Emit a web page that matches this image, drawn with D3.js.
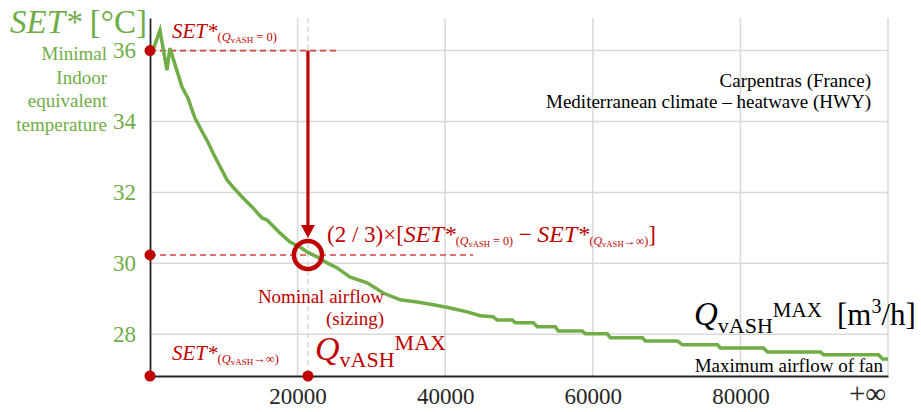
<!DOCTYPE html>
<html><head><meta charset="utf-8">
<script src="https://cdn.jsdelivr.net/npm/d3@7"></script>
<style>html,body{margin:0;padding:0;background:#fff;}svg{display:block;} svg text{font-family:"Liberation Serif","Times New Roman","DejaVu Serif",serif;}</style>
</head><body>
<svg id="c" width="921" height="412"></svg>
<script>
// ---- data ----
const airflow = [500, 1350, 2300, 2700, 4340, 5150, 6100, 7870, 8540, 10440, 11250, 12480, 13830, 15190, 15870, 17630, 18980, 20340, 21290, 22650, 24000, 25360, 27120, 29430, 31600, 33900, 36200, 38380, 40680, 42990, 44750, 46510, 47050, 49090, 49490, 51940, 52480, 54920, 55330, 58580, 58990, 61970, 62380, 66720, 67120, 71460, 72140, 76890, 77290, 83120, 83670, 90850, 91260, 98720, 99260, 100000];
const setStar = [36.07, 36.57, 35.45, 36.07, 34.97, 34.66, 34.09, 33.41, 33.11, 32.35, 32.15, 31.87, 31.59, 31.28, 31.22, 30.85, 30.60, 30.46, 30.32, 30.18, 30.01, 29.87, 29.61, 29.45, 29.16, 28.97, 28.91, 28.83, 28.74, 28.63, 28.52, 28.49, 28.40, 28.40, 28.32, 28.32, 28.21, 28.21, 28.09, 28.09, 28.01, 28.01, 27.90, 27.90, 27.81, 27.81, 27.70, 27.70, 27.61, 27.61, 27.50, 27.50, 27.42, 27.42, 27.30, 27.30];
const xTicks = [20000, 40000, 60000, 80000];
const xInfLabel = "+∞";
const yTicks = [28, 30, 32, 34, 36];
const setAtZero = 36.0;
const setAtNominal = 30.235;
const nominalAirflow = 21400;
const titleLines = ["Carpentras (France)", "Mediterranean climate – heatwave (HWY)"];
const yDescLines = ["Minimal", "Indoor", "equivalent", "temperature"];

// ---- scales ----
const FONT = "Liberation Serif, Times New Roman, DejaVu Serif, serif";
const svg = d3.select("#c");
const x = d3.scaleLinear().domain([0, 100000]).range([150, 888]);
const y = d3.scaleLinear().domain([26.82, 36.92]).range([376, 18]);
const green = "#70ad47", red = "#c00000", redDash = "#d54545", grid = "#d9d9d9", dark = "#262626";

// gridlines
svg.append("g").selectAll("line").data(yTicks).join("line")
  .attr("x1", x(0)).attr("x2", x(100000)).attr("y1", d => y(d)).attr("y2", d => y(d))
  .attr("stroke", grid).attr("stroke-width", 1.5);
svg.append("g").selectAll("line").data(xTicks.concat([100000])).join("line")
  .attr("x1", d => x(d)).attr("x2", d => x(d)).attr("y1", y.range()[1]).attr("y2", y.range()[0])
  .attr("stroke", grid).attr("stroke-width", 1.5);

// nominal gray dashed vertical
svg.append("line").attr("x1", x(nominalAirflow)).attr("x2", x(nominalAirflow))
  .attr("y1", y.range()[1]).attr("y2", y.range()[0])
  .attr("stroke", "#cfcfcf").attr("stroke-width", 1.3).attr("stroke-dasharray", "5,4");

// axes
const xAxis = d3.axisBottom(x).tickValues(xTicks).tickSize(0).tickPadding(10).tickFormat(d3.format("d"));
const gx = svg.append("g").attr("transform", `translate(0,${y.range()[0]})`).call(xAxis).attr("font-family", FONT);
gx.select(".domain").attr("stroke", dark).attr("stroke-width", 1.8);
gx.selectAll("text").attr("font-size", 23).attr("fill", dark).attr("dy", "0.8em");
gx.append("text").attr("x", x(100000) - 2).attr("y", 27).attr("text-anchor", "end")
  .attr("font-size", 29).attr("fill", dark).text(xInfLabel);

const yAxis = d3.axisLeft(y).tickValues(yTicks).tickSize(0).tickPadding(14).tickFormat(d3.format("d"));
const gy = svg.append("g").attr("transform", `translate(${x(0)},0)`).call(yAxis).attr("font-family", FONT);
gy.select(".domain").attr("stroke", dark).attr("stroke-width", 1.8);
gy.selectAll("text").attr("font-size", 23).attr("fill", green);

// dashed red lines
svg.append("line").attr("x1", x(0)).attr("x2", 340).attr("y1", y(setAtZero)).attr("y2", y(setAtZero))
  .attr("stroke", redDash).attr("stroke-width", 1.6).attr("stroke-dasharray", "6,4");
svg.append("line").attr("x1", x(0)).attr("x2", 473).attr("y1", y(setAtNominal)).attr("y2", y(setAtNominal))
  .attr("stroke", redDash).attr("stroke-width", 1.6).attr("stroke-dasharray", "6,4");

// curve
const pts = airflow.map((q, i) => [q, setStar[i]]);
svg.append("path").datum(pts)
  .attr("d", d3.line().x(d => x(d[0])).y(d => y(d[1])))
  .attr("fill", "none").attr("stroke", green).attr("stroke-width", 3.5).attr("stroke-linejoin", "miter");

// arrow
const ax = x(nominalAirflow), ay0 = y(setAtZero), tipY = y(setAtNominal) - 17;
svg.append("line").attr("x1", ax).attr("x2", ax).attr("y1", ay0).attr("y2", tipY - 10)
  .attr("stroke", red).attr("stroke-width", 3.2);
svg.append("path").attr("d", `M${ax - 7},${tipY - 13} L${ax + 7},${tipY - 13} L${ax},${tipY} Z`).attr("fill", red);

// circle
svg.append("circle").attr("cx", ax).attr("cy", y(setAtNominal)).attr("r", 14)
  .attr("fill", "none").attr("stroke", red).attr("stroke-width", 4.5);

// dots
[[0, setAtZero], [0, setAtNominal], [0, y.domain()[0]], [nominalAirflow, y.domain()[0]]].forEach(d => {
  svg.append("circle").attr("cx", x(d[0])).attr("cy", y(d[1])).attr("r", 5.5).attr("fill", red);
});

// ---- texts ----
function addSub(t, small, arrow) {
  t.append("tspan").attr("font-size", small).attr("dy", 3).text("(");
  t.append("tspan").attr("font-size", small).attr("font-style", "italic").text("Q");
  t.append("tspan").attr("font-size", small * 0.72).attr("dy", 2).text("vASH");
  t.append("tspan").attr("font-size", small).attr("dy", -2).text(arrow ? "→∞)" : " = 0)");
}
function setSub(xPos, yPos, big, small, arrow) {
  const t = svg.append("text").attr("x", xPos).attr("y", yPos).attr("fill", red).attr("font-family", FONT);
  t.append("tspan").attr("font-style", "italic").attr("font-size", big).text("SET*");
  addSub(t, small, arrow);
}
setSub(172, 38, 21, 12.5, false);
setSub(172, 360, 21, 12.5, true);

// (2/3)x[...]
{
  const t = svg.append("text").attr("x", 327).attr("y", 242).attr("fill", red).attr("font-family", FONT);
  t.append("tspan").attr("font-size", 23).text("(2 / 3)×[");
  t.append("tspan").attr("font-size", 24).attr("font-style", "italic").text("SET*");
  addSub(t, 12, false);
  t.append("tspan").attr("font-size", 23).attr("dy", -3).text(" − ");
  t.append("tspan").attr("font-size", 24).attr("font-style", "italic").text("SET*");
  addSub(t, 12, true);
  t.append("tspan").attr("font-size", 23).attr("dy", -3).text("]");
}

// Nominal airflow (sizing)
svg.append("text").attr("x", 384).attr("y", 303).attr("text-anchor", "end").attr("fill", red).attr("font-size", 19).attr("font-family", FONT).text("Nominal airflow");
svg.append("text").attr("x", 384).attr("y", 325).attr("text-anchor", "end").attr("fill", red).attr("font-size", 19).attr("font-family", FONT).text("(sizing)");

// red Q_vASH^MAX
{
  const t = svg.append("text").attr("x", 315).attr("y", 360).attr("fill", red).attr("font-family", FONT);
  t.append("tspan").attr("font-size", 34).attr("font-style", "italic").text("Q");
  t.append("tspan").attr("font-size", 22).attr("dy", 7).text("vASH");
  t.append("tspan").attr("font-size", 22).attr("dy", -17).text("MAX");
}

// black axis title Q_vASH^MAX [m3/h]
{
  const t = svg.append("text").attr("x", 694).attr("y", 325).attr("fill", "#000").attr("font-family", FONT);
  t.append("tspan").attr("font-size", 33).attr("font-style", "italic").text("Q");
  t.append("tspan").attr("font-size", 22).attr("dy", 8).text("vASH");
  t.append("tspan").attr("font-size", 21).attr("dy", -16).text("MAX");
  const t2 = svg.append("text").attr("x", 837).attr("y", 325).attr("fill", "#000").attr("font-family", FONT).attr("font-size", 31);
  t2.append("tspan").text("[m");
  t2.append("tspan").attr("font-size", 20).attr("dy", -12).text("3");
  t2.append("tspan").attr("dy", 12).text("/h]");
}
svg.append("text").attr("x", 883).attr("y", 372).attr("text-anchor", "end").attr("font-size", 19).attr("fill", "#000").attr("font-family", FONT).text("Maximum airflow of fan");

// title lines
svg.append("g").attr("font-family", FONT).selectAll("text").data(titleLines).join("text")
  .attr("x", 871).attr("y", (d, i) => 87 + i * 21).attr("text-anchor", "end")
  .attr("font-size", 19).attr("fill", "#000").text(d => d);

// y title
{
  const t = svg.append("text").attr("x", 10).attr("y", 33).attr("fill", green).attr("font-family", FONT);
  t.append("tspan").attr("font-size", 33).attr("font-style", "italic").text("SET*");
  t.append("tspan").attr("font-size", 33).text(" [°C]");
}
svg.append("g").attr("font-family", FONT).selectAll("text").data(yDescLines).join("text")
  .attr("x", 107).attr("y", (d, i) => 60 + i * 23.5).attr("text-anchor", "end")
  .attr("font-size", 19).attr("fill", green).text(d => d);
</script>
</body></html>
